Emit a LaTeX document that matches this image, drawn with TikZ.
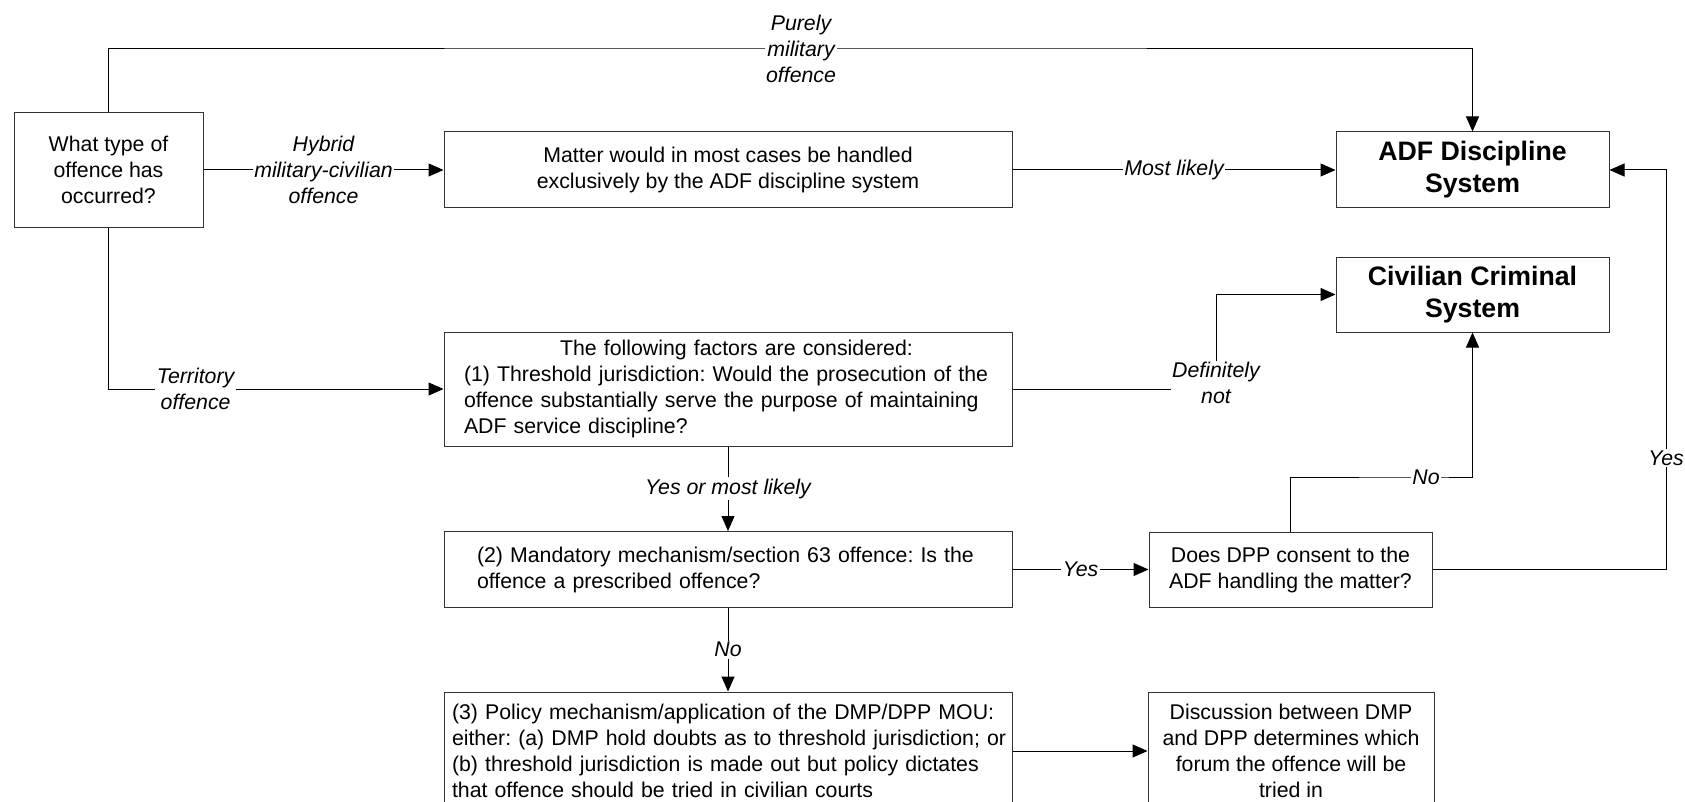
\documentclass[tikz,border=0pt]{standalone}
\usepackage{fontspec}
\setmainfont{Liberation Sans}
\frenchspacing
\usetikzlibrary{positioning, arrows.meta}

\begin{document}
\begin{tikzpicture}[x=1pt, y=-1pt, line width=1pt, -{Triangle[length=15pt, width=13pt]},
    box/.style={rectangle, draw=black!80, inner sep=0pt, align=center, font=\fontsize{21.3}{26}\selectfont},
    sysbox/.style={box, font=\bfseries\fontsize{26.7}{32}\selectfont},
    lbl/.style={fill=white, inner sep=1.5pt, align=center, font=\itshape\fontsize{21.3}{26}\selectfont}]
        \useasboundingbox (0,0) rectangle (1685,802);

        \node[box, minimum width=189pt, minimum height=115pt] (qtype) at (108.5,170) {What type of\\offence has\\occurred?};
        \node[box, minimum width=568pt, minimum height=76pt] (hybrid) at (728,170) {Matter would in most cases be handled\\exclusively by the ADF discipline system};
        \node[sysbox, minimum width=273pt, minimum height=76pt] (adf) at (1472.5,170) {ADF Discipline\\System};
        \node[sysbox, minimum width=273pt, minimum height=75pt] (civil) at (1472.5,294.5) {Civilian Criminal\\System};
        \node[box, minimum width=568pt, minimum height=114pt, text width=528pt, align=left] (factors) at (728,389)
            {\makebox[528pt][c]{\hspace{17pt}The following factors are considered:}\\(1) Threshold jurisdiction: Would the prosecution of the\\offence substantially serve the purpose of maintaining\\ADF service discipline?};
        \node[box, minimum width=568pt, minimum height=76pt, text width=502pt, align=left] (mandatory) at (728,569.5)
            {(2) Mandatory mechanism/section 63 offence: Is the\\offence a prescribed offence?};
        \node[box, minimum width=283pt, minimum height=75pt] (consent) at (1290.5,569.5) {Does DPP consent to the\\ADF handling the matter?};
        \node[box, minimum width=568pt, minimum height=118pt, text width=552pt, align=left] (policy) at (728,751)
            {\mbox{(3) Policy mechanism/application of the DMP/DPP MOU:}\\\mbox{either: (a) DMP hold doubts as to threshold jurisdiction; or}\\\mbox{(b) threshold jurisdiction is made out but policy dictates}\\\mbox{that offence should be tried in civilian courts}};
        \node[box, minimum width=286pt, minimum height=118pt] (forum) at (1291,751) {Discussion between DMP\\and DPP determines which\\forum the offence will be\\tried in};

        \coordinate (military) at (801,49);
        \coordinate (notcivil) at (1216,389);
        \coordinate (consentno) at (1426,477);
        \coordinate (consentyes) at (1666,458);

        \draw (qtype.north) |- (military) node[lbl] {Purely\\military\\offence} -| (adf.north);
        \path (qtype) edge node[lbl] {Hybrid\\military-civilian\\offence} (hybrid);
        \path (hybrid) edge node[lbl] {Most likely} (adf);
        \draw (qtype.south) |- node[lbl, pos=0.63] {Territory\\offence} (factors.west);
        \draw (factors.east) -- (notcivil) node[lbl, yshift=6pt] {Definitely\\not} |- (civil.west);
        \path (factors) edge node[lbl] {Yes or most likely} (mandatory);
        \path (mandatory) edge node[lbl] {Yes} (consent);
        \path (mandatory) edge node[lbl] {No} (policy);
        \path (policy) edge (forum);
        \draw (consent.north) |- (consentno) node[lbl] {No} -| (civil.south);
        \draw (consent.east) -| (consentyes) node[lbl] {Yes} |- (adf.east);
    \end{tikzpicture}
\end{document}
